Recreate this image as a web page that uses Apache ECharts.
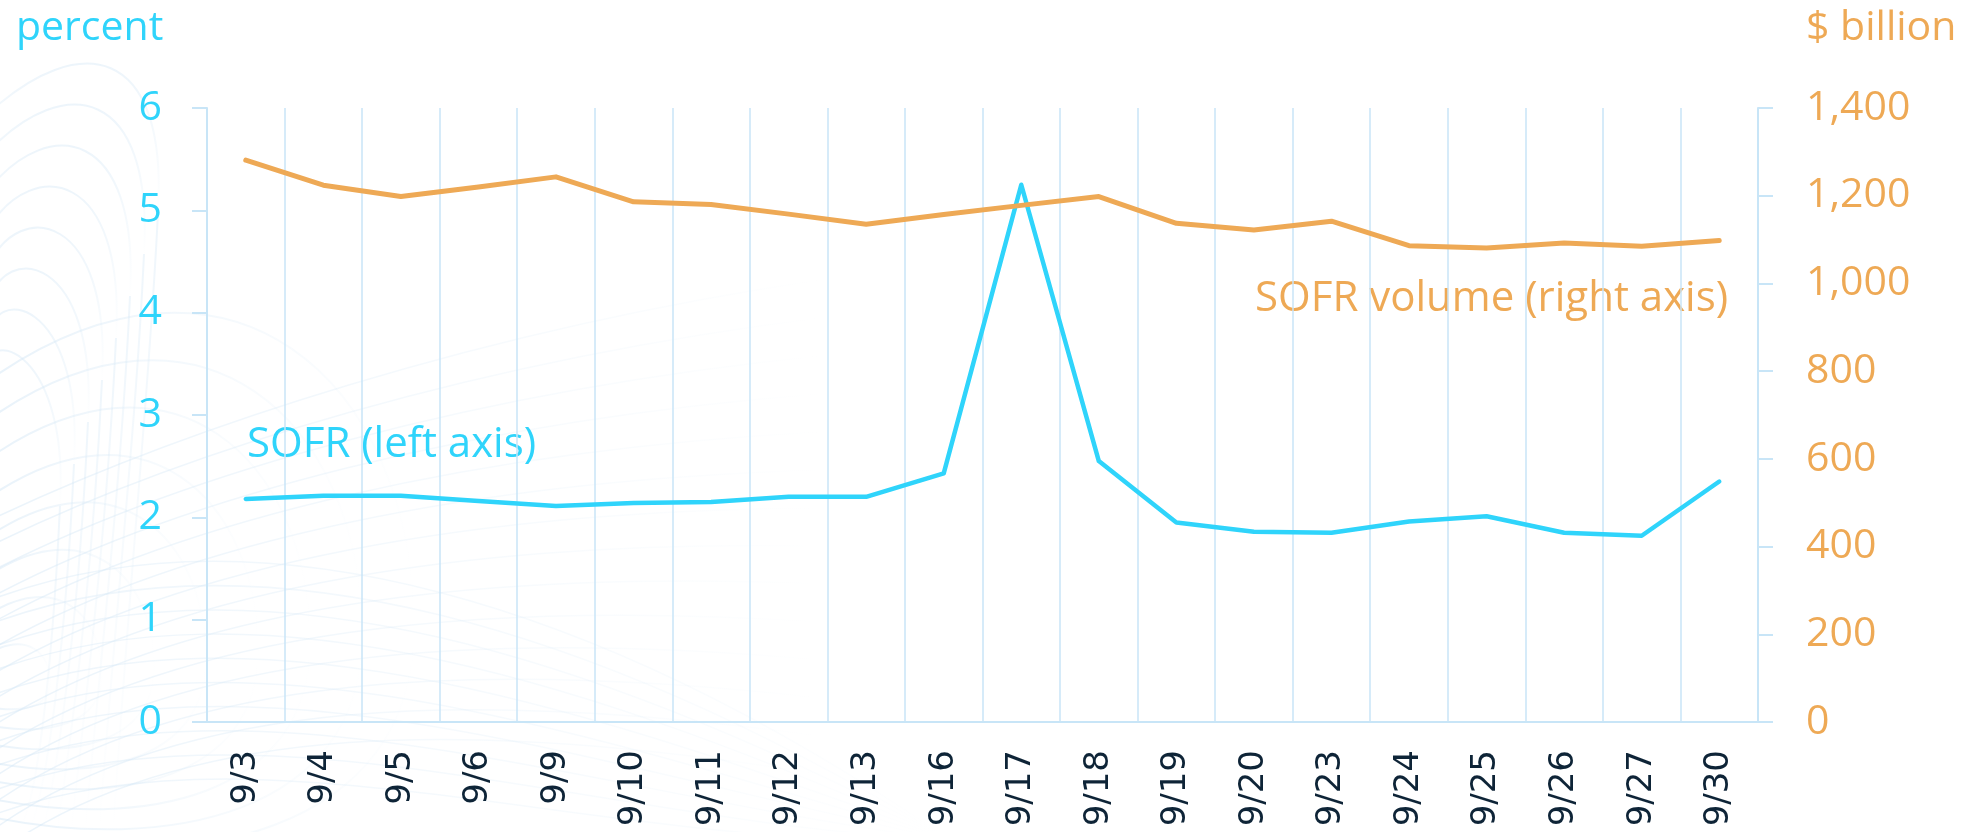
<!DOCTYPE html>
<html>
<head>
<meta charset="utf-8">
<script src="https://cdn.jsdelivr.net/npm/echarts@6/dist/echarts.min.js"></script>
<style>
  html, body { margin: 0; padding: 0; background: #ffffff; }
  #chart { width: 1972px; height: 832px; }
</style>
</head>
<body>
<div id="chart"></div>
<script>
// ---- data ----
const categories = ['9/3','9/4','9/5','9/6','9/9','9/10','9/11','9/12','9/13','9/16','9/17','9/18','9/19','9/20','9/23','9/24','9/25','9/26','9/27','9/30'];
const sofrRate = [2.18, 2.21, 2.21, 2.16, 2.11, 2.14, 2.15, 2.20, 2.20, 2.43, 5.25, 2.55, 1.95, 1.86, 1.85, 1.96, 2.01, 1.85, 1.82, 2.35];
const sofrVolume = [1281, 1224, 1198, 1220, 1243, 1186, 1180, 1158, 1135, 1157, 1178, 1198, 1137, 1122, 1142, 1086, 1081, 1092, 1085, 1098];
const leftTicks = { min: 0, max: 6, interval: 1 };
const rightTicks = { min: 0, max: 1400, interval: 200 };

// ---- style ----
const CYAN = '#2fd4fb';
const ORANGE = '#eea955';
const GRIDC = '#c8e5f7';
const NAVY = '#0e2437';
const FONT = 'Open Sans';

function fade(dirX, dirY, a) {
  return {
    type: 'linear', x: 0, y: 0, x2: dirX, y2: dirY,
    colorStops: [
      { offset: 0, color: 'rgba(214,232,246,' + a + ')' },
      { offset: 1, color: 'rgba(214,232,246,0)' }
    ]
  };
}
function curve(x1, y1, c1x, c1y, c2x, c2y, x2, y2, stroke, w) {
  return {
    type: 'bezierCurve', silent: true, z: -10,
    shape: { x1: x1, y1: y1, cpx1: c1x, cpy1: c1y, cpx2: c2x, cpy2: c2y, x2: x2, y2: y2 },
    style: { stroke: stroke, lineWidth: w, fill: null }
  };
}

// faint decorative background (topographic-like curves)
const deco = [];
// upper-left nested arcs
for (let k = 0; k < 8; k++) {
  const px = 108 - 15 * k, py = 52 + 42 * k, rx = 158 - 14 * k;
  deco.push(curve(-10, py + 60 - 4 * k, px - 30, py - 20, rx + 10, py - 10, rx, py + 160, fade(0, 1, 0.45), 2));
  deco.push(curve(rx, py + 160, rx - 8, py + 330, rx - 25, py + 480, rx - 45, 832, fade(0, 1, 0.4), 2));
}
// lower-left nested loops
const cy = 690;
for (let k = 0; k < 8; k++) {
  const r = 50 + 52 * k;
  deco.push(curve(-10, cy - 0.75 * r, 0.55 * r, cy - 1.15 * r, r, cy - 0.75 * r, r, cy - 0.15 * r, fade(1, 0, 0.55), 2));
  deco.push(curve(r, cy - 0.15 * r, r, cy + 0.35 * r, 0.45 * r, cy + 0.45 * r, -10, cy + 0.35 * r, fade(1, 0, 0.55), 2));
}
// sweeping lines rising to the right
for (let k = 0; k < 14; k++) {
  deco.push(curve(-10, 520 + 26 * k, 180, 430 + 22 * k, 480, 330 + 30 * k, 820, 280 + 38 * k, fade(1, 0, 0.5), 1.5));
}
// sweeping lines falling to the right
for (let k = 0; k < 10; k++) {
  deco.push(curve(-10, 600 + 24 * k, 260, 500 + 24 * k, 600, 600 + 28 * k, 950, 840, fade(1, 0, 0.45), 1.5));
}

const chart = echarts.init(document.getElementById('chart'), null, { renderer: 'canvas' });
chart.setOption({
  animation: false,
  backgroundColor: '#ffffff',
  grid: { left: 207, right: 214, top: 108, bottom: 110, containLabel: false },
  xAxis: {
    type: 'category',
    data: categories,
    boundaryGap: true,
    axisLine: { show: true, lineStyle: { color: GRIDC, width: 2 } },
    axisTick: { show: false },
    splitLine: { show: true, lineStyle: { color: GRIDC, width: 1.5 } },
    axisLabel: {
      rotate: 90, interval: 0, margin: 28,
      color: NAVY, fontFamily: 'DejaVu Sans', fontSize: 34
    }
  },
  yAxis: [
    {
      type: 'value', position: 'left',
      min: leftTicks.min, max: leftTicks.max, interval: leftTicks.interval,
      axisLine: { show: true, lineStyle: { color: GRIDC, width: 2 } },
      axisTick: { show: true, length: 15, lineStyle: { color: GRIDC, width: 2 } },
      splitLine: { show: false },
      axisLabel: { color: CYAN, fontFamily: FONT, fontSize: 41, margin: 45 }
    },
    {
      type: 'value', position: 'right',
      min: rightTicks.min, max: rightTicks.max, interval: rightTicks.interval,
      axisLine: { show: true, lineStyle: { color: GRIDC, width: 2 } },
      axisTick: { show: true, length: 15, lineStyle: { color: GRIDC, width: 2 } },
      splitLine: { show: false },
      axisLabel: {
        color: ORANGE, fontFamily: FONT, fontSize: 41, margin: 48,
        formatter: v => v.toLocaleString('en-US')
      }
    }
  ],
  series: [
    {
      name: 'SOFR (left axis)', type: 'line', yAxisIndex: 0,
      data: sofrRate, symbol: 'none',
      lineStyle: { color: CYAN, width: 4.5, cap: 'round', join: 'round' }
    },
    {
      name: 'SOFR volume (right axis)', type: 'line', yAxisIndex: 1,
      data: sofrVolume, symbol: 'none',
      lineStyle: { color: ORANGE, width: 5, cap: 'round', join: 'round' }
    }
  ],
  graphic: deco.concat([
    { type: 'text', left: 16, top: 8, style: { text: 'percent', fill: CYAN, font: '41px "Open Sans"' } },
    { type: 'text', left: 1806, top: 8, style: { text: '$ billion', fill: ORANGE, font: '41px "Open Sans"' } },
    { type: 'text', left: 247, top: 424, style: { text: 'SOFR (left axis)', fill: CYAN, font: '42px "Open Sans"' } },
    { type: 'text', left: 1255, top: 278, style: { text: 'SOFR volume (right axis)', fill: ORANGE, font: '42px "Open Sans"' } }
  ])
});
</script>
</body>
</html>
